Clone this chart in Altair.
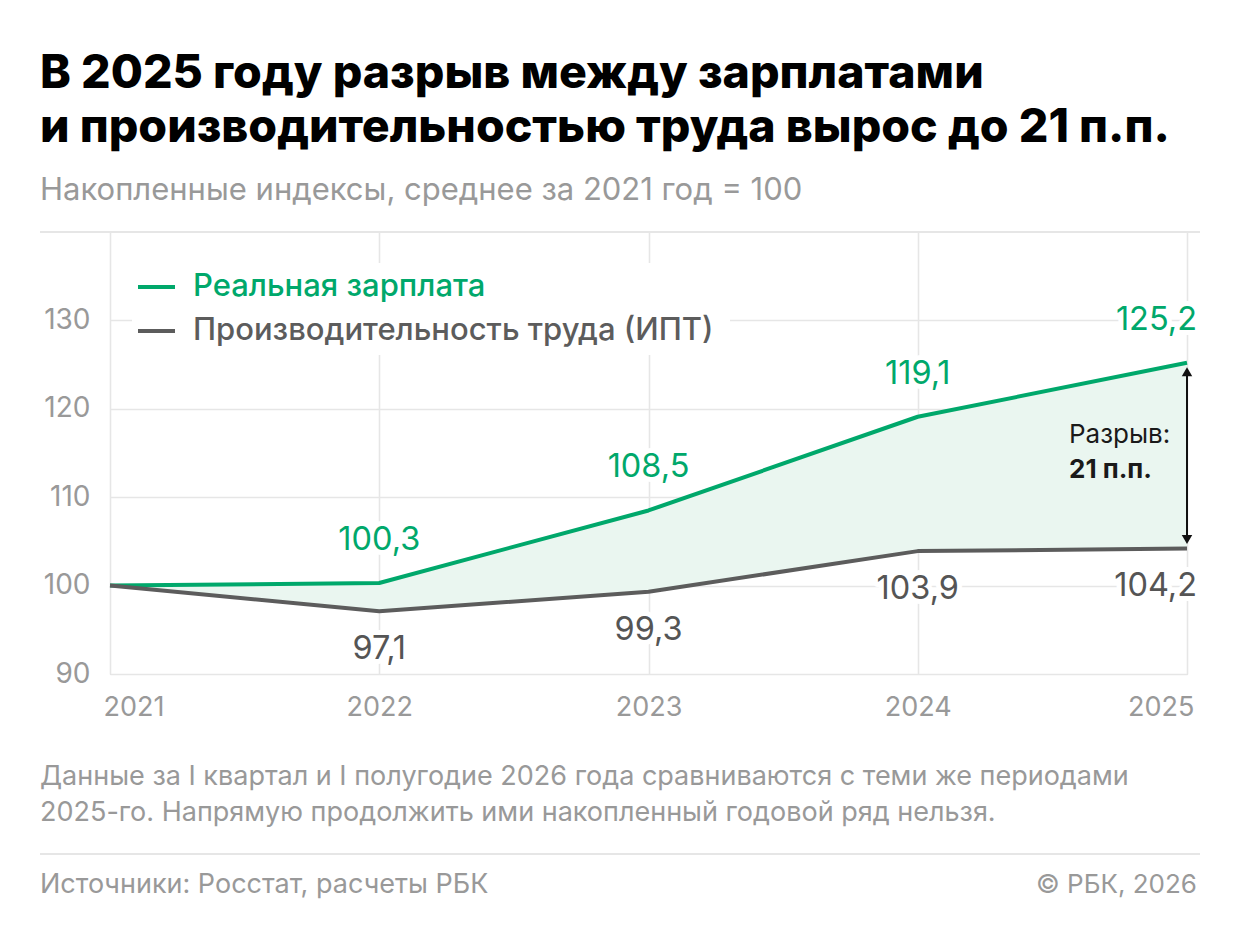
import altair as alt
import pandas as pd

# ---------------- data ----------------
years = [2021, 2022, 2023, 2024, 2025]
wages = [100.0, 100.3, 108.5, 119.1, 125.2]
productivity = [100.0, 97.1, 99.3, 103.9, 104.2]
series_names = ["Реальная зарплата", "Производительность труда (ИПТ)"]
y_ticks = [90, 100, 110, 120, 130]

title_lines = [
    "В 2025 году разрыв между зарплатами",
    "и производительностью труда вырос до 21 п.п.",
]
subtitle = "Накопленные индексы, среднее за 2021 год = 100"
note_lines = [
    "Данные за I квартал и I полугодие 2026 года сравниваются с теми же периодами",
    "2025-го. Напрямую продолжить ими накопленный годовой ряд нельзя.",
]
source_text = "Источники: Росстат, расчеты РБК"
copyright_text = "© РБК, 2026"
gap_label = "Разрыв:"

# ---------------- style ----------------
FONT = "Inter"
GREEN = "#00a86b"
GRAY = "#5c5c5c"
LABEL_GRAY = "#555555"
AXIS_GRAY = "#999999"
GRID = "#e6e6e6"
FILL = "#eaf6f0"

W, H = 1077, 442


def fmt(v):
    return f"{v:.1f}".replace(".", ",")


wide = pd.DataFrame({
    "year": years,
    "wage": wages,
    "prod": productivity,
    "wage_lbl": [fmt(v) for v in wages],
    "prod_lbl": [fmt(v) for v in productivity],
})
long = pd.DataFrame({
    "year": years * 2,
    "value": wages + productivity,
    "series": [series_names[0]] * len(years) + [series_names[1]] * len(years),
})
last = wide[wide.year == years[-1]].copy()
last["mid"] = (last["wage"] + last["prod"]) / 2
last["gap"] = (last["wage"] - last["prod"]).round(0).astype(int).astype(str) + " п.п."

x_scale = alt.Scale(domain=[years[0], years[-1]], nice=False, zero=False)
y_scale = alt.Scale(domain=[90, 140], nice=False, zero=False)

x_axis = alt.Axis(values=years, format="d", title=None, grid=True, ticks=False,
                  domain=False, labelFlush=True, labelFlushOffset=7,
                  labelPadding=20, labelFontSize=27, labelColor=AXIS_GRAY,
                  labelFont=FONT, gridColor=GRID, gridWidth=1.6)
y_axis = alt.Axis(values=y_ticks, title=None, grid=True, ticks=False,
                  domain=False, labelPadding=20, labelFontSize=28,
                  labelColor=AXIS_GRAY, labelFont=FONT, gridColor=GRID,
                  gridWidth=1.6)


def X(field="year"):
    return alt.X(f"{field}:Q", scale=x_scale, axis=x_axis)


def Y(field):
    return alt.Y(f"{field}:Q", scale=y_scale, axis=y_axis)


layers = []

# gap area
layers.append(
    alt.Chart(wide).mark_area(color=FILL, opacity=1).encode(
        x=X(), y=Y("prod"), y2="wage:Q")
)

# white background behind the legend (hides grid lines)
one = pd.DataFrame({"k": [0]})
layers.append(
    alt.Chart(one).mark_rect(color="white").encode(
        x=alt.value(22), x2=alt.value(620), y=alt.value(31), y2=alt.value(123))
)

mid_years = (alt.datum.year > years[0]) & (alt.datum.year < years[-1])
end_year = alt.datum.year == years[-1]


def label_layers(field, lbl, color, dy, halo):
    out = []
    kw = dict(font=FONT, fontSize=32.5, baseline="middle", dy=dy)
    if halo:
        kw.update(fill="white", stroke="white", strokeWidth=10, strokeJoin="round")
    else:
        kw.update(color=color)
    out.append(alt.Chart(wide).transform_filter(mid_years).mark_text(align="center", **kw)
               .encode(x=X(), y=Y(field), text=f"{lbl}:N"))
    out.append(alt.Chart(wide).transform_filter(end_year).mark_text(align="right", dx=10, **kw)
               .encode(x=X(), y=Y(field), text=f"{lbl}:N"))
    return out


layers += label_layers("wage", "wage_lbl", GREEN, -43, True)
layers += label_layers("prod", "prod_lbl", LABEL_GRAY, 38, True)

# lines
layers.append(
    alt.Chart(long).mark_line(strokeWidth=4, strokeJoin="round").encode(
        x=X(), y=Y("value"),
        color=alt.Color("series:N", scale=alt.Scale(domain=series_names, range=[GREEN, GRAY]),
                        legend=None),
        order=alt.Order("series:N", sort="descending"))
)

# value labels
layers += label_layers("wage", "wage_lbl", GREEN, -43, False)
layers += label_layers("prod", "prod_lbl", LABEL_GRAY, 38, False)

# gap arrow
layers.append(
    alt.Chart(last).mark_rule(color="#111111", strokeWidth=2, yOffset=8, y2Offset=-8).encode(
        x=X(), y=Y("wage"), y2="prod:Q")
)
layers.append(
    alt.Chart(last).mark_point(shape="triangle-up", filled=True, color="#111111", size=110,
                               opacity=1, yOffset=9).encode(x=X(), y=Y("wage"))
)
layers.append(
    alt.Chart(last).mark_point(shape="triangle-down", filled=True, color="#111111", size=110,
                               opacity=1, yOffset=-9).encode(x=X(), y=Y("prod"))
)
layers.append(
    alt.Chart(last).transform_calculate(t=f"'{gap_label}'").mark_text(
        font=FONT, fontSize=26, align="left", baseline="middle", dx=-118, dy=-21,
        color="#1a1a1a").encode(x=X(), y=Y("mid"), text="t:N")
)
layers.append(
    alt.Chart(last).mark_text(
        font=FONT, fontSize=26, fontWeight=700, align="left", baseline="middle", dx=-118, dy=14,
        color="#1a1a1a").encode(x=X(), y=Y("mid"), text="gap:N")
)

# legend
legend_colors = [GREEN, GRAY]
legend_y = [55, 99]
for name, col, ly in zip(series_names, legend_colors, legend_y):
    d = pd.DataFrame({"series": [name]})
    layers.append(
        alt.Chart(d).mark_rule(color=col, strokeWidth=4).encode(
            x=alt.value(28), x2=alt.value(65), y=alt.value(ly))
    )
    layers.append(
        alt.Chart(d).mark_text(font=FONT, fontSize=31, fontWeight=500, color=col,
                               align="left", baseline="middle").encode(
            x=alt.value(83), y=alt.value(ly), text="series:N")
    )


# titles, notes, separators
def text_layer(t, xpos, ypos, size, color, weight=400, align="left"):
    d = pd.DataFrame({"t": [t]})
    return alt.Chart(d).mark_text(font=FONT, fontSize=size, fontWeight=weight, color=color,
                                  align=align, baseline="alphabetic").encode(
        x=alt.value(xpos), y=alt.value(ypos), text="t:N")


layers.append(text_layer(title_lines[0], -70, -144, 46.5, "#000000", 800))
layers.append(text_layer(title_lines[1], -70, -90, 46.5, "#000000", 800))
layers.append(text_layer(subtitle, -70, -32, 31, AXIS_GRAY))
layers.append(text_layer(note_lines[0], -70, 553, 27, AXIS_GRAY))
layers.append(text_layer(note_lines[1], -70, 589, 27, AXIS_GRAY))
layers.append(text_layer(source_text, -70, 661, 27, AXIS_GRAY))
layers.append(text_layer(copyright_text, 1087, 661, 26, AXIS_GRAY, align="right"))

for ry in [0, 622]:
    layers.append(
        alt.Chart(one).mark_rule(color=GRID, strokeWidth=2).encode(
            x=alt.value(-70), x2=alt.value(1090), y=alt.value(ry))
    )

chart = alt.layer(*layers).properties(
    width=W, height=H,
    padding={"left": 102, "top": 224, "right": 45, "bottom": 267},
    autosize=alt.AutoSizeParams(type="none"),
    background="white",
).configure_view(stroke=None).configure(font=FONT)

chart.save("out.html", embed_options={"renderer": "svg", "actions": False})
